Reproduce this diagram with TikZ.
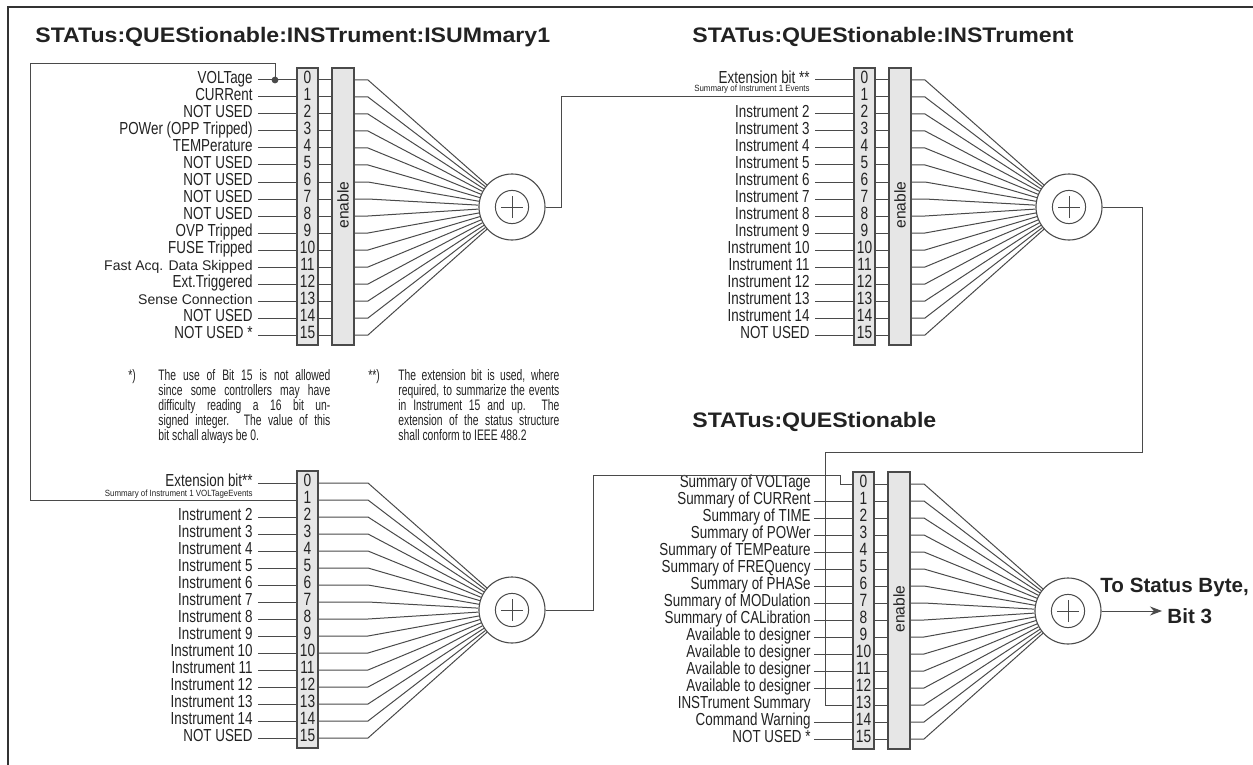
\documentclass[tikz,border=0pt]{standalone}
\usepackage{fontspec}
\setmainfont{Liberation Sans}
\newfontfamily\condf[FakeStretch=0.77]{Liberation Sans}
\newfontfamily\tinyf[FakeStretch=0.88]{Liberation Sans}
\newfontfamily\notef[FakeStretch=0.68]{Liberation Sans}
\newfontfamily\headf[FakeStretch=1.1]{Liberation Sans}
\usetikzlibrary{arrows.meta}
\definecolor{ln}{HTML}{4A4A4A}
\definecolor{boxfill}{HTML}{E6E6E6}
\definecolor{txt}{HTML}{222222}
\definecolor{framec}{HTML}{333333}
\tikzset{
  wire/.style={draw=ln, line width=0.5pt},
  framel/.style={draw=framec, line width=1.3pt},
  bitbox/.style={draw=ln, fill=boxfill, line width=0.55pt, minimum width=10.5pt, minimum height=138.5pt, inner sep=0pt},
  enbox/.style={bitbox, minimum width=11pt},
  sumnode/.style={circle, draw=ln, line width=0.55pt, minimum size=33pt, inner sep=0pt,
    path picture={
      \draw[ln, line width=0.5pt] (path picture bounding box.center) circle[radius=8.3pt];
      \draw[ln, line width=0.5pt] ([xshift=-5.5pt]path picture bounding box.center) -- ([xshift=5.5pt]path picture bounding box.center);
      \draw[ln, line width=0.5pt] ([yshift=-5.5pt]path picture bounding box.center) -- ([yshift=5.5pt]path picture bounding box.center);
    }},
  lbl/.style={anchor=base east, inner sep=0pt, text=txt, font=\condf\fontsize{8.7}{10}\selectfont},
  lblwide/.style={anchor=base east, inner sep=0pt, text=txt, font=\fontsize{7.0}{8}\selectfont},
  lbltiny/.style={anchor=base east, inner sep=0pt, text=txt, font=\tinyf\fontsize{4.5}{5}\selectfont},
  bitnum/.style={anchor=base, inner sep=0pt, text=txt, font=\condf\fontsize{8.9}{10}\selectfont},
  entext/.style={rotate=90, inner sep=0pt, text=txt, font=\fontsize{7.8}{9}\selectfont},
  headline/.style={anchor=base west, inner sep=0pt, text=txt, font=\headf\bfseries\fontsize{10.5}{12}\selectfont},
  outtext/.style={anchor=base west, inner sep=0pt, text=txt, font=\bfseries\fontsize{10.3}{12}\selectfont},
  notemark/.style={anchor=base west, inner sep=0pt, text=txt, font=\notef\fontsize{7.6}{7.5}\selectfont},
  notetext/.style={anchor=north west, inner sep=0pt, text=txt, align=left, font=\notef\fontsize{7.6}{7.5}\selectfont},
}
% #1 prefix, #2 x of bit box, #3 y of row 0, #4 enable box (1/0)
\newcommand\regblock[4]{%
  \node[bitbox] (#1bits) at (#2+10.5, #3+126.5) {};
  \ifnum#4=1
    \node[enbox] (#1enb) at (#2+46, #3+126.5) {};
    \node[entext] (#1ent) at (#2+46, #3+125) {enable};
    \def\rbfs{57}%
  \else
    \def\rbfs{21}%
  \fi
  \node[sumnode] (#1sum) at (#2+215, #3+127) {};
  \foreach \i in {0,...,15}{
    \coordinate (#1b\i) at (#2, #3+17*\i);
    \coordinate (#1l\i) at (#2-39, #3+17*\i);
    \node[bitnum] (#1n\i) at (#2+10.5, #3+17*\i+3.5) {\i};
    \ifnum#4=1
      \draw[wire] (#2+21, #3+17*\i) -- (#2+35, #3+17*\i);
    \fi
    \draw[wire] (#2+\rbfs, #3+17*\i) -- (#2+71, #3+17*\i) -- (#1sum);
  }
}
\begin{document}
\begin{tikzpicture}[x=0.5pt,y=-0.5pt]
\useasboundingbox (0,0) rectangle (1253,765);
\draw[framel] (1253,7) -- (8,7) -- (8,765);

% titles
\node[headline] (t1) at (35,43) {STATus:QUEStionable:INSTrument:ISUMmary1};
\node[headline] (t2) at (692,43) {STATus:QUEStionable:INSTrument};
\node[headline] (t3) at (692,427) {STATus:QUEStionable};

% blocks
\regblock{TL}{297}{80}{1}
\regblock{TR}{854}{80}{1}
\regblock{BL}{297}{483}{0}
\regblock{BR}{853}{484}{1}

% top-left labels
\foreach \k/\t in {0/VOLTage, 1/CURRent, 2/NOT USED, 3/POWer (OPP Tripped), 4/TEMPerature,
  5/NOT USED, 6/NOT USED, 7/NOT USED, 8/NOT USED, 9/OVP Tripped, 10/FUSE Tripped,
  12/Ext.Triggered, 14/NOT USED, 15/NOT USED *}
  \node[lbl] (TLt\k) at (253, 80+17*\k+3.5) {\t};
\node[lblwide] (TLt11) at (253, 80+17*11+3.5) {Fast Acq. Data Skipped};
\node[lblwide] (TLt13) at (253, 80+17*13+3.5) {Sense Connection};
\foreach \i in {0,...,15} \draw[wire] (TLl\i) -- (TLb\i);
\node[circle, fill=ln, inner sep=0pt, minimum size=3.4pt] (vdot) at (275,80) {};

% top-right labels
\node[lbl] (TRt0) at (810, 83.5) {Extension bit **};
\node[lbltiny] (TRs1) at (810, 92) {Summary of Instrument 1 Events};
\foreach \k in {2,...,14}
  \node[lbl] (TRt\k) at (810, 80+17*\k+3.5) {Instrument \k};
\node[lbl] (TRt15) at (810, 80+17*15+3.5) {NOT USED};
\foreach \i in {0,2,3,...,15} \draw[wire] (TRl\i) -- (TRb\i);

% bottom-left labels
\node[lbl] (BLt0) at (253, 486.5) {Extension bit**};
\node[lbltiny] (BLs1) at (253, 496) {Summary of Instrument 1 VOLTageEvents};
\foreach \k in {2,...,14}
  \node[lbl] (BLt\k) at (253, 483+17*\k+3.5) {Instrument \k};
\node[lbl] (BLt15) at (253, 483+17*15+3.5) {NOT USED};
\foreach \i in {0,2,3,...,15} \draw[wire] (BLl\i) -- (BLb\i);

% bottom-right labels
\foreach \k/\t in {0/Summary of VOLTage, 1/Summary of CURRent, 2/Summary of TIME, 3/Summary of POWer,
  4/Summary of TEMPeature, 5/Summary of FREQuency, 6/Summary of PHASe, 7/Summary of MODulation,
  8/Summary of CALibration, 9/Available to designer, 10/Available to designer,
  11/Available to designer, 12/Available to designer, 13/INSTrument Summary,
  14/Command Warning, 15/NOT USED *}
  \node[lbl] (BRt\k) at (811, 484+17*\k+3.5) {\t};
\foreach \i in {1,2,...,12,14,15} \draw[wire] (BRl\i) -- (BRb\i);

% long wires
\coordinate (wl) at (30,64);
\draw[wire] (vdot.center) |- (wl) |- (BLb1);
\draw[wire] (TLsum.east) -- ++(16,0) |- (TRb1);
\coordinate (wr) at (825,452);
\draw[wire] (TRsum.east) -- ++(40,0) |- (wr) |- (BRb13);
\coordinate (wb) at (840,475);
\draw[wire] (BLsum.east) -- ++(48,0) |- (wb) |- (BRb0);

% output
\coordinate (outend) at (1162,611);
\draw[wire, -{Stealth[length=6pt, width=4.5pt]}] (BRsum.east) -- (outend);
\node[outtext] (out1) at (1100,592) {To Status Byte,};
\node[outtext] (out2) at (1167,623) {Bit 3};

% footnotes
\node[notemark] (fm1) at (128,380) {*)};
\node[notetext] (fn1) at (158,369) {%
  \makebox[86pt][s]{The use of Bit 15 is not allowed}\\
  \makebox[86pt][s]{since some controllers may have}\\
  \makebox[86pt][s]{difficulty reading a 16 bit un-}\\
  \makebox[86pt][s]{signed integer. The value of this}\\
  bit schall always be 0.};
\node[notemark] (fm2) at (368,380) {**)};
\node[notetext] (fn2) at (398,369) {%
  \makebox[80.5pt][s]{The extension bit is used, where}\\
  \makebox[80.5pt][s]{required, to summarize the events}\\
  \makebox[80.5pt][s]{in Instrument 15 and up. The}\\
  \makebox[80.5pt][s]{extension of the status structure}\\
  shall conform to IEEE 488.2};
\end{tikzpicture}
\end{document}
